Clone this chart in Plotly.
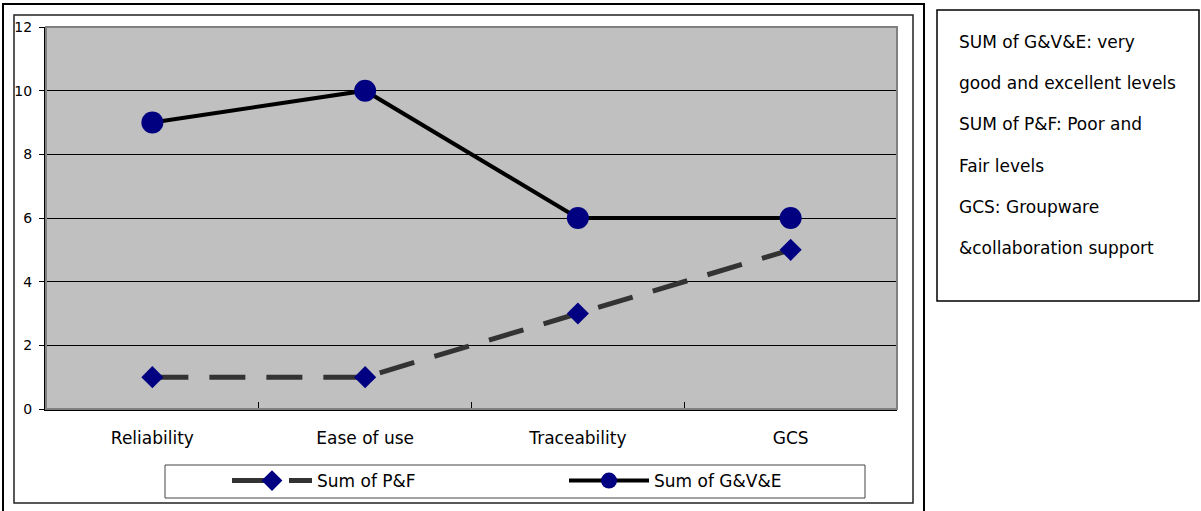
import plotly.graph_objects as go

categories = ["Reliability", "Ease of use", "Traceability", "GCS"]
sum_pf = [1, 1, 3, 5]
sum_gve = [9, 10, 6, 6]
note_lines = [
    "SUM of G&V&E: very",
    "good and excellent levels",
    "SUM of P&F: Poor and",
    "Fair levels",
    "GCS: Groupware",
    "&collaboration support",
]

W, H = 1201, 511
L, R, T, B = 46, 897, 27, 409
FONT = "DejaVu Sans, Liberation Sans, Arial, sans-serif"


def px(x):
    return (x - L) / (R - L)


def py(y):
    return (B - y) / (B - T)


fig = go.Figure()
fig.add_trace(go.Scatter(
    x=categories, y=sum_pf, name="Sum of P&F", mode="lines+markers",
    line=dict(color="#333333", width=5, dash="36px,21px"),
    marker=dict(symbol="diamond", size=17, color="#000080"),
))
fig.add_trace(go.Scatter(
    x=categories, y=sum_gve, name="Sum of G&V&E", mode="lines+markers",
    line=dict(color="#000000", width=4),
    marker=dict(symbol="circle", size=22, color="#000080"),
))

shapes = []
shapes.append(dict(type="rect", xref="paper", yref="paper", x0=0, x1=1, y0=0, y1=1,
                   line=dict(color="#808080", width=2), layer="above"))
shapes.append(dict(type="path", xref="paper", yref="paper",
                   path=f"M {px(3)} {py(511)} L {px(3)} {py(4)} L {px(924)} {py(4)} L {px(924)} {py(511)}",
                   line=dict(color="#000000", width=2)))
shapes.append(dict(type="rect", xref="paper", yref="paper", x0=px(14), x1=px(913), y0=py(503), y1=py(15),
                   line=dict(color="#222222", width=1.5)))
shapes.append(dict(type="rect", xref="paper", yref="paper", x0=px(165), x1=px(865), y0=py(498), y1=py(465),
                   line=dict(color="#444444", width=1)))
shapes.append(dict(type="rect", xref="paper", yref="paper", x0=px(937), x1=px(1199), y0=py(301), y1=py(10),
                   line=dict(color="#000000", width=1.5)))

annotations = []
for i, t in enumerate(note_lines):
    yc = 42 + i * 41.2
    annotations.append(dict(xref="paper", yref="paper", x=px(957), y=py(yc), text=t,
                            showarrow=False, xanchor="left", yanchor="middle",
                            font=dict(family=FONT, size=17, color="#000000")))

fig.update_layout(
    width=W, height=H,
    margin=dict(l=L, r=W - R, t=T, b=H - B, pad=0, autoexpand=False),
    paper_bgcolor="#ffffff", plot_bgcolor="#C0C0C0",
    font=dict(family=FONT, color="#000000"),
    showlegend=True,
    legend=dict(orientation="h", x=px(227), y=py(481), xanchor="left", yanchor="middle",
                entrywidth=242, entrywidthmode="pixels", itemwidth=80,
                bgcolor="rgba(0,0,0,0)", borderwidth=0,
                font=dict(family=FONT, size=17, color="#000000")),
    shapes=shapes, annotations=annotations,
)
fig.update_xaxes(type="category", tickson="boundaries", ticks="inside", ticklen=7,
                 tickcolor="#000000", showline=True, linecolor="#000000", linewidth=2,
                 showgrid=False, tickfont=dict(family=FONT, size=17), ticklabelstandoff=13,
                 range=[-0.5, 3.5], mirror=False)
fig.update_yaxes(range=[0, 12], dtick=2, ticks="outside", ticklen=5, tickcolor="#000000",
                 showline=True, linecolor="#000000", linewidth=2, showgrid=True,
                 gridcolor="#000000", gridwidth=1, zeroline=False,
                 tickfont=dict(family=FONT, size=14), ticklabelstandoff=4)

fig.write_html("out.html")
